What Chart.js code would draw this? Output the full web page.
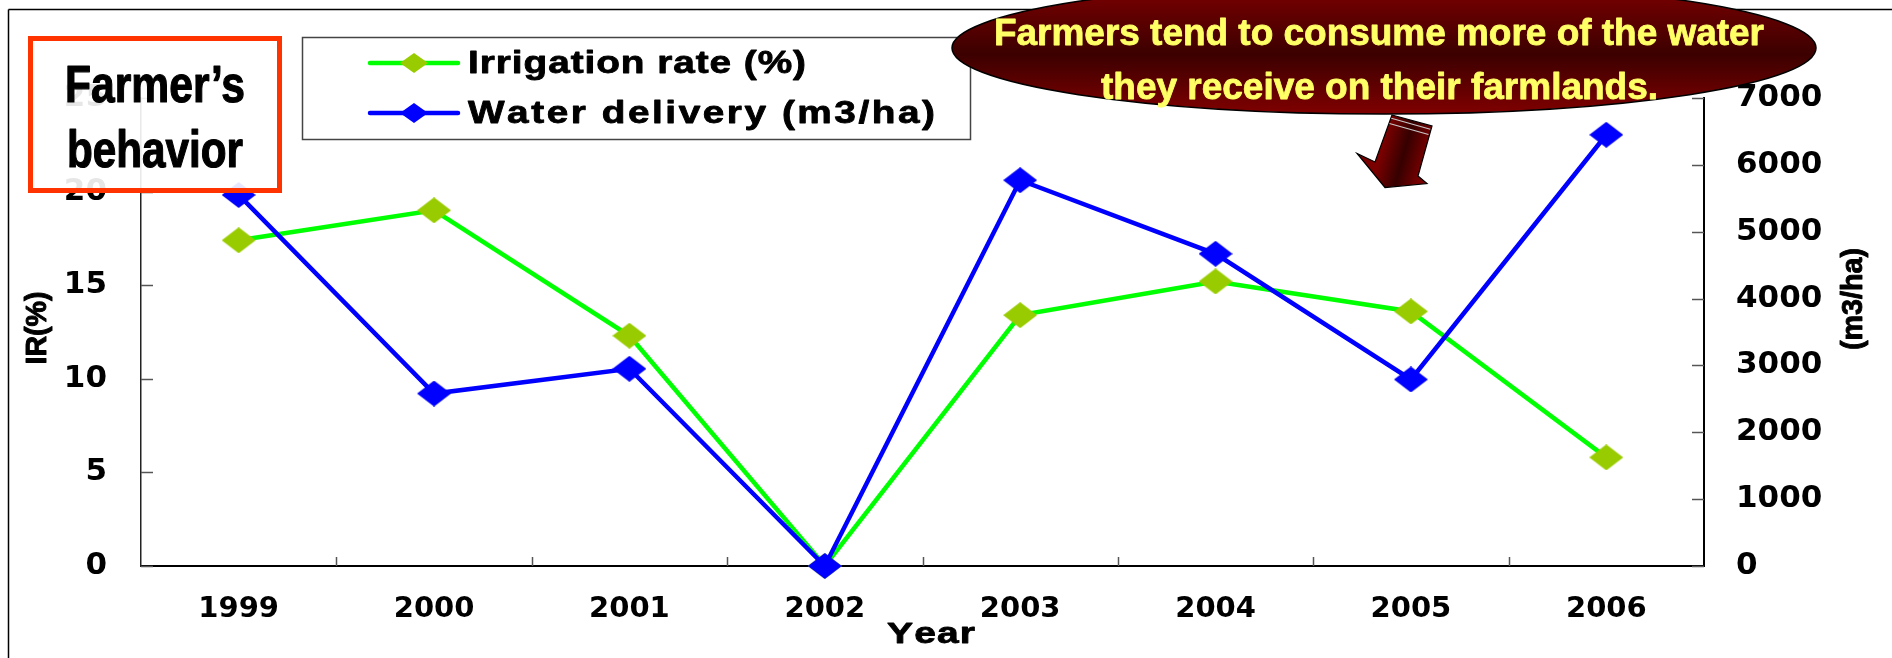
<!DOCTYPE html>
<html>
<head>
<meta charset="utf-8">
<script src="https://cdn.jsdelivr.net/npm/chart.js@4.4.1/dist/chart.umd.min.js"></script>
<style>
  html, body { margin: 0; padding: 0; background: #fff; }
  canvas { display: block; }
</style>
</head>
<body>
<canvas id="chart" width="1892" height="658"></canvas>
<script>
// ---- data ----
const years = ['1999', '2000', '2001', '2002', '2003', '2004', '2005', '2006'];
const irrigationRate = [17.4, 19.0, 12.3, 0, 13.4, 15.2, 13.6, 5.8];      // %
const waterDelivery = [5550, 2580, 2950, 0, 5770, 4670, 2790, 6450];     // m3/ha
const irTicks = [0, 5, 10, 15, 20, 25];
const wdTicks = [0, 1000, 2000, 3000, 4000, 5000, 6000, 7000];
const seriesNames = ['Irrigation rate (%)', 'Water delivery (m3/ha)'];
const axisTitles = { x: 'Year', left: 'IR(%)', right: '(m3/ha)' };
const boxTitle = ['Farmer\u2019s', 'behavior'];
const calloutText = ['Farmers tend to consume more of the water', 'they receive on their farmlands.'];

// ---- styling ----
const LINE_GREEN = '#00FF00', MARK_GREEN = '#99CC00', BLUE = '#0000FF';
const X_TICK_FONT = { family: "'DejaVu Sans', sans-serif", size: 29, weight: 'bold' };
const Y_TICK_FONT = { family: "'DejaVu Sans', sans-serif", size: 31, weight: 'bold' };
const SANS_BOLD = "'Liberation Sans', Arial, sans-serif";

// flattened diamond marker drawn onto a small canvas
function diamond(w, h, color) {
  const c = document.createElement('canvas');
  c.width = w; c.height = h;
  const g = c.getContext('2d');
  g.fillStyle = color;
  g.beginPath();
  g.moveTo(w / 2, 0); g.lineTo(w, h / 2); g.lineTo(w / 2, h); g.lineTo(0, h / 2);
  g.closePath(); g.fill();
  return c;
}
const greenMark = diamond(34, 26, MARK_GREEN);
const blueMark = diamond(34, 26, BLUE);
const greenMarkSmall = diamond(28, 20, MARK_GREEN);
const blueMarkSmall = diamond(28, 20, BLUE);

function paint(ctx, text, x, y, heavy) {
  ctx.fillText(text, x, y);
  if (heavy) {
    ctx.strokeStyle = ctx.fillStyle;
    ctx.lineWidth = heavy;
    ctx.lineJoin = 'round';
    ctx.strokeText(text, x, y);
  }
}

// text squeezed/stretched horizontally to a given width, left edge at x
function fitText(ctx, text, x, y, width, font, heavy) {
  ctx.save();
  ctx.font = font;
  ctx.textAlign = 'left';
  ctx.textBaseline = 'alphabetic';
  const w = ctx.measureText(text).width;
  ctx.translate(x, y);
  ctx.scale(width / w, 1);
  paint(ctx, text, 0, 0, heavy);
  ctx.restore();
}

// stretched glyphs with extra spacing between letters, spread to a given width
function spacedText(ctx, text, x, y, width, font, stretch, heavy) {
  ctx.save();
  ctx.font = font;
  ctx.textAlign = 'left';
  ctx.textBaseline = 'alphabetic';
  const chars = [...text];
  const ws = chars.map(ch => ctx.measureText(ch).width * stretch);
  const total = ws.reduce((a, b) => a + b, 0);
  const gap = chars.length > 1 ? (width - total) / (chars.length - 1) : 0;
  let cx = x;
  chars.forEach((ch, i) => {
    ctx.save();
    ctx.translate(cx, y);
    ctx.scale(stretch, 1);
    paint(ctx, ch, 0, 0, heavy);
    ctx.restore();
    cx += ws[i] + gap;
  });
  ctx.restore();
}

// rotated (bottom-to-top) text fitted to a length, centred on (cx, cy)
function verticalText(ctx, text, cx, cy, length, font, heavy) {
  ctx.save();
  ctx.font = font;
  ctx.textAlign = 'left';
  ctx.textBaseline = 'middle';
  const w = ctx.measureText(text).width;
  ctx.translate(cx, cy);
  ctx.rotate(-Math.PI / 2);
  ctx.scale(length / w, 1);
  paint(ctx, text, -w / 2, 0, heavy);
  ctx.restore();
}

function seg(ctx, x1, y1, x2, y2) {
  ctx.beginPath(); ctx.moveTo(x1, y1); ctx.lineTo(x2, y2); ctx.stroke();
}

// inward tick marks on all three axes
const innerTicks = {
  id: 'innerTicks',
  beforeDatasetsDraw(chart) {
    const { ctx, chartArea: a, scales } = chart;
    ctx.save();
    ctx.strokeStyle = '#555';
    ctx.lineWidth = 1.5;
    const x = scales.x;
    for (let i = 1; i < years.length; i++) {
      const px = Math.round((x.getPixelForValue(i - 1) + x.getPixelForValue(i)) / 2) + 0.5;
      seg(ctx, px, a.bottom, px, a.bottom - 9);
    }
    irTicks.forEach(v => {
      const py = Math.round(scales.y.getPixelForValue(v)) + 0.5;
      seg(ctx, a.left, py, a.left + 12, py);
    });
    wdTicks.forEach(v => {
      const py = Math.round(scales.y1.getPixelForValue(v)) + 0.5;
      seg(ctx, a.right, py, a.right - 12, py);
    });
    ctx.restore();
  }
};

// axis titles, frame, legend, title box and callout
const overlay = {
  id: 'overlay',
  afterDraw(chart) {
    const { ctx } = chart;
    ctx.save();

    // outer frame
    ctx.strokeStyle = '#000';
    ctx.lineWidth = 1.5;
    seg(ctx, 8.5, 9.5, 8.5, 658);
    seg(ctx, 8.5, 9.5, 1892, 9.5);

    // axis titles
    ctx.fillStyle = '#000';
    verticalText(ctx, axisTitles.left, 38, 328, 73, 'bold 30px ' + SANS_BOLD, 1);
    verticalText(ctx, axisTitles.right, 1854, 299, 102, 'bold 29px ' + SANS_BOLD, 0.9);
    spacedText(ctx, axisTitles.x, 887, 643, 88, 'bold 30px ' + SANS_BOLD, 1.3, 0.8);

    // "Farmer's behavior" box
    ctx.fillStyle = 'rgba(255,255,255,0.9)';
    ctx.fillRect(28, 36, 254, 157);
    ctx.strokeStyle = '#FF3300';
    ctx.lineWidth = 5;
    ctx.strokeRect(30.5, 38.5, 249, 152);
    ctx.fillStyle = '#000';
    fitText(ctx, boxTitle[0], 65, 102, 180, 'bold 52px ' + SANS_BOLD, 1.2);
    fitText(ctx, boxTitle[1], 67, 167, 176, 'bold 52px ' + SANS_BOLD, 1.2);

    // legend
    ctx.fillStyle = '#fff';
    ctx.fillRect(302, 37, 668, 102);
    ctx.strokeStyle = '#444';
    ctx.lineWidth = 1.5;
    ctx.strokeRect(302.5, 37.5, 668, 102);
    const rows = [
      { y: 63, line: LINE_GREEN, mark: greenMarkSmall, base: 72.5, w: 338 },
      { y: 113, line: BLUE, mark: blueMarkSmall, base: 122.5, w: 467 }
    ];
    chart.data.datasets.forEach((ds, i) => {
      const r = rows[i];
      ctx.strokeStyle = r.line;
      ctx.lineWidth = 4.5;
      ctx.lineCap = 'round';
      seg(ctx, 370, r.y, 458, r.y);
      ctx.drawImage(r.mark, 414 - r.mark.width / 2, r.y - r.mark.height / 2);
      ctx.fillStyle = '#000';
      spacedText(ctx, ds.label, 468, r.base, r.w, 'bold 31px ' + SANS_BOLD, 1.25, 0.8);
    });
    ctx.lineCap = 'butt';

    // callout bubble
    const eg = ctx.createLinearGradient(0, -18, 0, 114);
    eg.addColorStop(0, '#800000');
    eg.addColorStop(0.55, '#3c0000');
    eg.addColorStop(1, '#800000');
    ctx.beginPath();
    ctx.ellipse(1384, 48, 432, 66, 0, 0, Math.PI * 2);
    ctx.fillStyle = eg;
    ctx.fill();
    ctx.strokeStyle = '#000';
    ctx.lineWidth = 1.5;
    ctx.stroke();
    ctx.fillStyle = '#FFFF66';
    fitText(ctx, calloutText[0], 994, 45, 770, 'bold 37px ' + SANS_BOLD, 0.8);
    fitText(ctx, calloutText[1], 1101, 99, 557, 'bold 37px ' + SANS_BOLD, 0.8);

    // block arrow pointing down-left
    const pts = [[1392, 115], [1432, 126], [1418, 176], [1427, 183.5], [1385, 187.5], [1357, 153.5], [1375, 162]];
    const ag = ctx.createLinearGradient(1385, 138, 1428, 150);
    ag.addColorStop(0, '#7a0000');
    ag.addColorStop(0.5, '#360000');
    ag.addColorStop(1, '#7a0000');
    ctx.beginPath();
    pts.forEach((p, i) => i ? ctx.lineTo(p[0], p[1]) : ctx.moveTo(p[0], p[1]));
    ctx.closePath();
    ctx.fillStyle = ag;
    ctx.fill();
    ctx.strokeStyle = '#000';
    ctx.lineWidth = 1.2;
    ctx.stroke();
    // light stripes across the top of the shaft
    ctx.strokeStyle = '#c8c8c8';
    ctx.lineWidth = 1.2;
    const dx = -0.337, dy = 0.941;
    [3.5, 9].forEach(o => seg(ctx, 1392 + dx * o + 0.5, 115 + dy * o, 1432 + dx * o - 0.5, 126 + dy * o));

    ctx.restore();
  }
};

new Chart(document.getElementById('chart').getContext('2d'), {
  type: 'line',
  data: {
    labels: years,
    datasets: [
      {
        label: seriesNames[0],
        data: irrigationRate,
        yAxisID: 'y',
        borderColor: LINE_GREEN,
        backgroundColor: MARK_GREEN,
        borderWidth: 4.5,
        pointStyle: greenMark,
        pointRadius: 13,
        tension: 0,
        clip: false,
        order: 2
      },
      {
        label: seriesNames[1],
        data: waterDelivery,
        yAxisID: 'y1',
        borderColor: BLUE,
        backgroundColor: BLUE,
        borderWidth: 4.5,
        pointStyle: blueMark,
        pointRadius: 13,
        tension: 0,
        clip: false,
        order: 1
      }
    ]
  },
  options: {
    responsive: false,
    animation: false,
    devicePixelRatio: 1,
    layout: { padding: { top: 98, left: 0, right: 0, bottom: 0 } },
    plugins: { legend: { display: false }, tooltip: { enabled: false } },
    scales: {
      x: {
        offset: true,
        grid: { display: false, drawTicks: false },
        border: { color: '#000', width: 2 },
        ticks: { padding: 26, font: X_TICK_FONT, color: '#000', maxRotation: 0, autoSkip: false },
        afterFit: s => { s.height = 92; }
      },
      y: {
        position: 'left',
        min: irTicks[0],
        max: irTicks[irTicks.length - 1],
        grid: { display: false, drawTicks: false },
        border: { color: '#222', width: 1.5 },
        ticks: { stepSize: irTicks[1] - irTicks[0], padding: 34, font: Y_TICK_FONT, color: '#000' },
        afterFit: s => { s.width = 141; }
      },
      y1: {
        position: 'right',
        min: wdTicks[0],
        max: wdTicks[wdTicks.length - 1],
        grid: { display: false, drawTicks: false },
        border: { color: '#000', width: 2 },
        ticks: {
          stepSize: wdTicks[1] - wdTicks[0], padding: 32, font: Y_TICK_FONT, color: '#000',
          callback: v => String(v)
        },
        afterFit: s => { s.width = 188; }
      }
    }
  },
  plugins: [innerTicks, overlay]
});
</script>
</body>
</html>
